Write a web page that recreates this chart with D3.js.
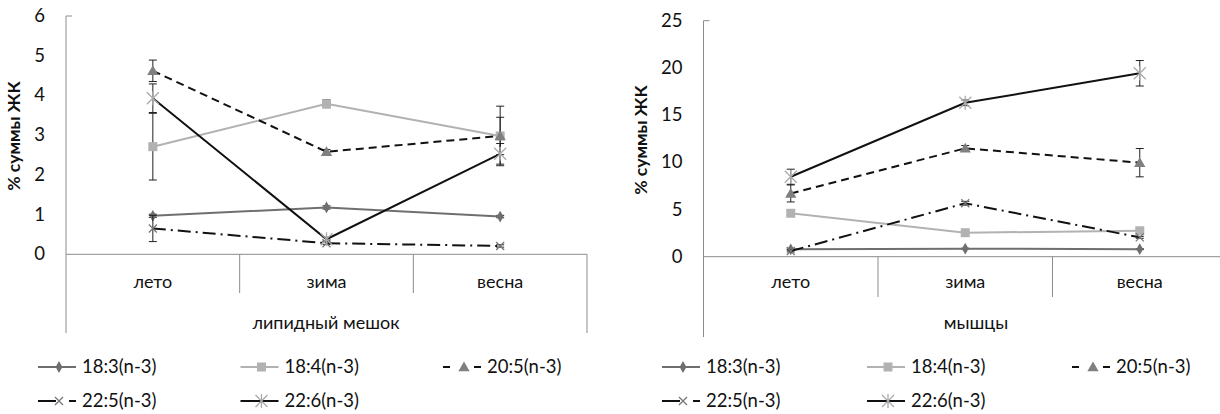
<!DOCTYPE html>
<html>
<head>
<meta charset="utf-8">
<script src="https://cdn.jsdelivr.net/npm/d3@7"></script>
<style>
  body { margin: 0; background: #fff; }
  text { font-family: Lato, "Open Sans", sans-serif; fill: #111; }
</style>
</head>
<body>
<script>
// categories and series
const categories = ["лето", "зима", "весна"];
const seriesNames = ["18:3(n-3)", "18:4(n-3)", "20:5(n-3)", "22:5(n-3)", "22:6(n-3)"];

// липидный мешок
const lip183 = [0.97, 1.18, 0.95];
const lip184 = [2.71, 3.79, 2.98];
const lip205 = [4.62, 2.58, 2.98];
const lip225 = [0.65, 0.28, 0.21];
const lip226 = [3.93, 0.38, 2.53];
const lipErr183 = [0.04, 0.04, 0.03];
const lipErr184 = [0.84, 0.10, 0.47];
const lipErr205 = [0.27, 0.06, 0.75];
const lipErr225 = [0.33, 0.03, 0.03];
const lipErr226 = [0.36, 0.05, 0.26];
const lipTicks = [0, 1, 2, 3, 4, 5, 6];

// мышцы
const mus183 = [0.78, 0.85, 0.80];
const mus184 = [4.6, 2.54, 2.75];
const mus205 = [6.7, 11.48, 9.96];
const mus225 = [0.6, 5.66, 2.05];
const mus226 = [8.47, 16.3, 19.43];
const musErr183 = [0.05, 0.05, 0.05];
const musErr184 = [0.2, 0.1, 0.1];
const musErr205 = [0.9, 0.3, 1.5];
const musErr225 = [0.1, 0.2, 0.1];
const musErr226 = [0.8, 0.3, 1.35];
const musTicks = [0, 5, 10, 15, 20, 25];

const styles = [
    {line: "#6f6f6f", dash: null, marker: "diamond", mcolor: "#6f6f6f"},
    {line: "#b2b2b2", dash: null, marker: "square", mcolor: "#b2b2b2"},
    {line: "#111", dash: "8,5", marker: "triangle", mcolor: "#7f7f7f"},
    {line: "#111", dash: "13,5,2,5", marker: "x", mcolor: "#777"},
    {line: "#111", dash: null, marker: "star", mcolor: "#aaa"}
];

const svg = d3.select("body").append("svg")
    .attr("width", 1220)
    .attr("height", 414);

function drawMarker(g, type, x, y, color) {
    if (type === "diamond") {
        g.append("path").attr("d", d3.symbol(d3.symbolDiamond, 40)())
            .attr("transform", "translate(" + x + "," + y + ")").attr("fill", color);
    } else if (type === "square") {
        g.append("rect").attr("x", x - 4.5).attr("y", y - 4.5)
            .attr("width", 9).attr("height", 9).attr("fill", color);
    } else if (type === "triangle") {
        g.append("path").attr("d", d3.symbol(d3.symbolTriangle, 55)())
            .attr("transform", "translate(" + x + "," + (y + 1) + ")").attr("fill", color);
    } else if (type === "x") {
        g.append("path").attr("d", "M-4,-4L4,4M-4,4L4,-4")
            .attr("transform", "translate(" + x + "," + y + ")")
            .attr("stroke", color).attr("stroke-width", 1.3).attr("fill", "none");
    } else if (type === "star") {
        g.append("path").attr("d", "M-6,-6L6,6M-6,6L6,-6M0,-7L0,7")
            .attr("transform", "translate(" + x + "," + y + ")")
            .attr("stroke", color).attr("stroke-width", 1.3).attr("fill", "none");
    }
}

function drawChart(opt) {
    const x = d3.scaleBand().domain(categories).range([opt.x0, opt.x1]);
    const y = d3.scaleLinear().domain(opt.domain).range([opt.yBottom, opt.yTop]);
    const g = svg.append("g");
    const axisColor = "#8c8c8c";
    const y0 = y(0);

    // y axis line + top cap
    g.append("line").attr("x1", opt.x0).attr("x2", opt.x0)
        .attr("y1", y(opt.domain[1])).attr("y2", opt.axisBottom)
        .attr("stroke", axisColor);
    g.append("line").attr("x1", opt.x0).attr("x2", opt.x0 + 6)
        .attr("y1", y(opt.domain[1])).attr("y2", y(opt.domain[1]))
        .attr("stroke", axisColor);

    // tick labels
    g.selectAll(".tl").data(opt.ticks).enter().append("text")
        .attr("x", opt.x0 - 21)
        .attr("y", d => y(d) + 6)
        .attr("text-anchor", "end")
        .attr("font-size", "18.5px")
        .text(d => d);

    // category axis
    g.append("line").attr("x1", opt.x0).attr("x2", opt.x1)
        .attr("y1", y0).attr("y2", y0).attr("stroke", axisColor);
    categories.slice(1).forEach(c => {
        g.append("line").attr("x1", x(c)).attr("x2", x(c))
            .attr("y1", y0).attr("y2", opt.sepBottom).attr("stroke", axisColor);
    });
    g.append("line").attr("x1", opt.x1).attr("x2", opt.x1)
        .attr("y1", y0).attr("y2", opt.axisBottom).attr("stroke", axisColor);
    g.selectAll(".cl").data(categories).enter().append("text")
        .attr("x", d => x(d) + x.bandwidth() / 2)
        .attr("y", 288)
        .attr("text-anchor", "middle")
        .attr("font-size", "18px")
        .text(d => d);
    g.append("text")
        .attr("x", opt.groupX)
        .attr("y", 329)
        .attr("text-anchor", "middle")
        .attr("font-size", "18px")
        .text(opt.group);

    // y title
    g.append("text")
        .attr("transform", "translate(" + opt.titleX + "," + opt.titleY + ") rotate(-90)")
        .attr("text-anchor", "middle")
        .attr("font-size", "17.5px")
        .attr("font-weight", "bold")
        .text("% суммы ЖК");

    const cx = d => x(d) + x.bandwidth() / 2;
    const line = d3.line().x(d => cx(d.c)).y(d => y(d.v));

    opt.series.forEach((vals, i) => {
        const st = styles[i];
        const pts = categories.map((c, j) => ({c: c, v: vals[j], e: opt.errors[i][j]}));
        // error bars
        pts.forEach(p => {
            const ey1 = y(p.v + p.e), ey2 = y(p.v - p.e);
            g.append("line").attr("x1", cx(p.c)).attr("x2", cx(p.c))
                .attr("y1", ey1).attr("y2", ey2).attr("stroke", "#222").attr("stroke-width", 1);
            [ey1, ey2].forEach(ey => {
                g.append("line").attr("x1", cx(p.c) - 4).attr("x2", cx(p.c) + 4)
                    .attr("y1", ey).attr("y2", ey).attr("stroke", "#222").attr("stroke-width", 1);
            });
        });
        g.append("path").datum(pts)
            .attr("d", line)
            .attr("fill", "none")
            .attr("stroke", st.line)
            .attr("stroke-width", 2)
            .attr("stroke-dasharray", st.dash);
        pts.forEach(p => drawMarker(g, st.marker, cx(p.c), y(p.v), st.mcolor));
    });

    // legend
    seriesNames.forEach((name, i) => {
        const st = styles[i];
        const lx = opt.legendX + (i % 3) * opt.legendStep;
        const ly = i < 3 ? 367 : 401;
        const lg = svg.append("g");
        if (st.dash) {
            const parts = st.dash === "8,5" ? [[0, 7], [31, 38]] : [[0, 18], [31, 38]];
            parts.forEach(pp => {
                lg.append("line").attr("x1", lx + pp[0]).attr("x2", lx + pp[1])
                    .attr("y1", ly).attr("y2", ly).attr("stroke", st.line).attr("stroke-width", 2);
            });
        } else {
            lg.append("line").attr("x1", lx).attr("x2", lx + 38)
                .attr("y1", ly).attr("y2", ly).attr("stroke", st.line).attr("stroke-width", 2);
        }
        drawMarker(lg, st.marker, lx + 21, ly, st.mcolor);
        lg.append("text").attr("x", lx + 44).attr("y", ly + 6)
            .attr("font-size", "18.5px")
            .text(name);
    });
}

drawChart({
    x0: 66, x1: 587, yBottom: 254.3, yTop: 16, domain: [0, 6], ticks: lipTicks,
    axisBottom: 333, sepBottom: 293,
    group: "липидный мешок", groupX: 326,
    titleX: 20, titleY: 136,
    series: [lip183, lip184, lip205, lip225, lip226],
    errors: [lipErr183, lipErr184, lipErr205, lipErr225, lipErr226],
    legendX: 38, legendStep: 202.5
});

drawChart({
    x0: 703.5, x1: 1227, yBottom: 256.7, yTop: 20.7, domain: [0, 25], ticks: musTicks,
    axisBottom: 337, sepBottom: 297,
    group: "мышцы", groupX: 976,
    titleX: 647, titleY: 140,
    series: [mus183, mus184, mus205, mus225, mus226],
    errors: [musErr183, musErr184, musErr205, musErr225, musErr226],
    legendX: 662, legendStep: 205
});
</script>
</body>
</html>
